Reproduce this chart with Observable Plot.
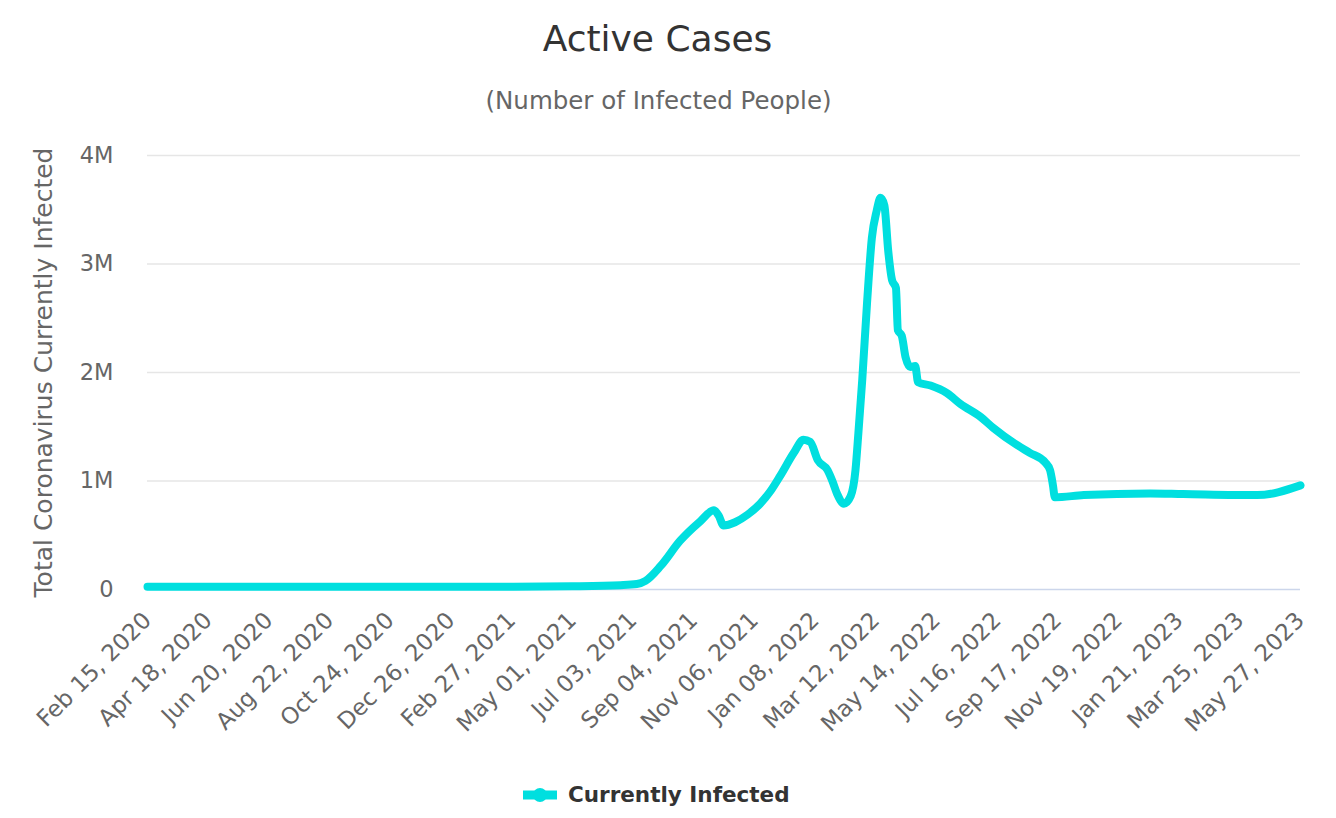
<!DOCTYPE html>
<html>
<head>
<meta charset="utf-8">
<script src="https://cdn.jsdelivr.net/npm/d3@7"></script>
<script src="https://cdn.jsdelivr.net/npm/@observablehq/plot@0.6"></script>
<style>
  html, body { margin: 0; padding: 0; background: #fff; }
  body { width: 1336px; height: 818px; overflow: hidden; position: relative; font-family: "DejaVu Sans", sans-serif; }
  #title { position: absolute; left: 0; width: 1315px; top: 21px; text-align: center; font-size: 36px; line-height: 1; color: #333; }
  #subtitle { position: absolute; left: 0; width: 1317px; top: 89px; text-align: center; font-size: 24.5px; line-height: 1; color: #666; }
  #chart { position: absolute; left: 0; top: 125px; }
  #legend { position: absolute; left: 523px; top: 784px; display: flex; align-items: center; font-size: 21.5px; line-height: 1; font-weight: bold; color: #333; }
  #legend svg { margin-right: 11px; display: block; }
</style>
</head>
<body>
<div id="title">Active Cases</div>
<div id="subtitle">(Number of Infected People)</div>
<div id="chart"></div>
<div id="legend"><svg width="34" height="20"><line x1="0" y1="10" x2="34" y2="10" stroke="#00dfdf" stroke-width="9"/><circle cx="17" cy="10" r="7" fill="#00dfdf"/></svg><span>Currently Infected</span></div>
<script>
// Series: date and number of currently infected people
const dates = [
  "2020-02-15","2020-06-01","2020-10-01","2020-12-26","2021-03-01","2021-05-01","2021-06-20",
  "2021-07-07","2021-07-16","2021-08-01","2021-08-21","2021-09-11","2021-09-25","2021-09-30",
  "2021-10-05","2021-10-17","2021-10-30","2021-11-12","2021-11-23","2021-12-03","2021-12-17",
  "2021-12-27","2022-01-03","2022-01-11","2022-01-21","2022-01-26","2022-01-31","2022-02-07",
  "2022-02-14","2022-02-19","2022-02-22","2022-02-26","2022-03-03","2022-03-08","2022-03-13",
  "2022-03-17","2022-03-21","2022-03-25","2022-03-29","2022-04-02","2022-04-04","2022-04-08",
  "2022-04-12","2022-04-17","2022-04-22","2022-04-25","2022-05-08","2022-05-25","2022-06-08",
  "2022-06-29","2022-07-12","2022-08-06","2022-08-19","2022-09-04","2022-09-09","2022-09-12",
  "2022-09-14","2022-10-14","2022-12-22","2023-01-25","2023-04-12","2023-05-27"
];
const values = [
  25000,25000,25000,25000,26000,30000,40000,
  50000,80000,220000,450000,630000,730000,680000,
  590000,620000,690000,790000,910000,1050000,1260000,
  1380000,1360000,1190000,1100000,1000000,880000,790000,
  860000,1100000,1440000,1930000,2640000,3240000,3490000,
  3610000,3540000,3120000,2850000,2780000,2390000,2340000,
  2140000,2050000,2060000,1910000,1880000,1810000,1710000,
  1590000,1490000,1330000,1260000,1170000,1100000,960000,
  850000,870000,885000,880000,870000,960000
];
// Axis ticks
const xTickLabels = [
  "2020-02-15","2020-04-18","2020-06-20","2020-08-22","2020-10-24","2020-12-26",
  "2021-02-27","2021-05-01","2021-07-03","2021-09-04","2021-11-06","2022-01-08",
  "2022-03-12","2022-05-14","2022-07-16","2022-09-17","2022-11-19","2023-01-21",
  "2023-03-25","2023-05-27"
];
const yTicks = [0, 1000000, 2000000, 3000000, 4000000];
const yTitle = "Total Coronavirus Currently Infected";

const data = dates.map((d, i) => ({date: new Date(d), value: values[i]}));
const xTicks = xTickLabels.map(d => new Date(d));

const chart = Plot.plot({
  width: 1336,
  height: 640,
  marginTop: 30,
  marginLeft: 147,
  marginRight: 36,
  marginBottom: 176,
  style: {fontFamily: "DejaVu Sans, sans-serif", background: "transparent", color: "#666", overflow: "visible"},
  x: {type: "utc", domain: [xTicks[0], xTicks[xTicks.length - 1]]},
  y: {domain: [0, 4000000]},
  marks: [
    Plot.gridY(yTicks.slice(1), {stroke: "#e6e6e6", strokeOpacity: 1, strokeWidth: 1.5}),
    Plot.ruleY([0], {stroke: "#ccd6eb", strokeWidth: 1.5}),
    Plot.axisY(yTicks, {tickSize: 0, tickPadding: 34, fontSize: 22.5, label: null,
      tickFormat: d => d === 0 ? "0" : (d / 1e6) + "M"}),
    Plot.axisX(xTicks, {tickSize: 0, tickPadding: 27, tickRotate: -45, fontSize: 23, label: null,
      tickFormat: d3.utcFormat("%b %d, %Y")}),
    Plot.text([yTitle], {frameAnchor: "left", textAnchor: "middle", rotate: -90, dx: -104, fontSize: 25, fill: "#666"}),
    Plot.line(data, {x: "date", y: "value", stroke: "#00dfdf", strokeWidth: 8,
      curve: "monotone-x", strokeLinejoin: "round", strokeLinecap: "round"})
  ]
});
document.getElementById("chart").append(chart);
</script>
</body>
</html>
